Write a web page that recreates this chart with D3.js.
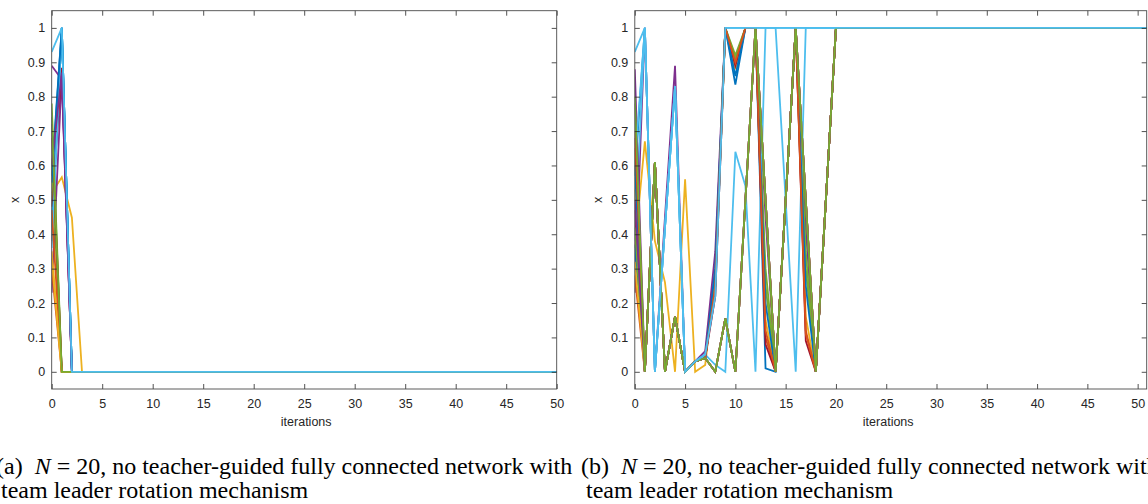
<!DOCTYPE html>
<html>
<head>
<meta charset="utf-8">
<script src="https://cdn.jsdelivr.net/npm/d3@7"></script>
<style>
body { margin: 0; background: #fff; }
.tick text { font-family: "Liberation Sans", Arial, sans-serif; font-size: 12.5px; fill: #262626; }
.lbl { font-family: "Liberation Sans", Arial, sans-serif; font-size: 12.5px; fill: #262626; }
.cap { font-family: "Liberation Serif", "Times New Roman", serif; font-size: 24px; fill: #000; }
</style>
</head>
<body>
<svg id="fig" width="1148" height="504"></svg>
<script>
// matlab default line colours, cycled over the 20 agents
var colors = ["#0072BD", "#D95319", "#EDB120", "#7E2F8E", "#77AC30", "#4DBEEE", "#A2142F"];

var xTicks = [0, 5, 10, 15, 20, 25, 30, 35, 40, 45, 50];
var yTicks = [0, 0.1, 0.2, 0.3, 0.4, 0.5, 0.6, 0.7, 0.8, 0.9, 1];
var yTickLabels = ["0", "0.1", "0.2", "0.3", "0.4", "0.5", "0.6", "0.7", "0.8", "0.9", "1"];

// (a) every agent settles at 0 after a few iterations
var itersA = [0, 1, 2, 3, 50];
var seriesA = [
    [0.57, 1, 0, 0, 0],
    [0.68, 0, 0, 0, 0],
    [0.52, 0.566, 0.448, 0, 0],
    [0.23, 0.86, 0, 0, 0],
    [0.78, 0, 0, 0, 0],
    [0.42, 1, 0, 0, 0],
    [0.48, 0.884, 0, 0, 0],
    [0.38, 1, 0, 0, 0],
    [0.30, 0, 0, 0, 0],
    [0.35, 0, 0, 0, 0],
    [0.89, 0.85, 0, 0, 0],
    [0.62, 0, 0, 0, 0],
    [0.36, 1, 0, 0, 0],
    [0.72, 0, 0, 0, 0],
    [0.55, 1, 0, 0, 0],
    [0.47, 0, 0, 0, 0],
    [0.33, 0, 0, 0, 0],
    [0.60, 0.87, 0, 0, 0],
    [0.74, 0, 0, 0, 0],
    [0.93, 1, 0, 0, 0]
];

// (b) agents oscillate, then all settle at 1 from iteration 20
var itersB = [0, 1, 2, 3, 4, 5, 6, 7, 8, 9, 10, 11, 12, 13, 14, 15, 16, 17, 18, 19, 20, 51];
var seriesB = [
    [0.57, 1, 0, 0.42, 0.83, 0, 0.03, 0.05, 0.30, 1, 0.835, 1, 1, 0.01, 0, 0.5, 1, 0.45, 0, 0.5, 1, 1],
    [0.65, 0, 0.61, 0, 0.16, 0, 0.03, 0.04, 0, 0.155, 0, 0.5, 1, 0.5, 0, 0.5, 1, 0.5, 0, 0.5, 1, 1],
    [0.36, 0.67, 0.38, 0.26, 0, 0.56, 0, 0.02, 0.28, 1, 0.88, 1, 1, 0.15, 0, 0.5, 1, 0.16, 0, 0.5, 1, 1],
    [0.23, 1, 0, 0.45, 0.89, 0, 0.03, 0.06, 0.35, 1, 0.90, 1, 1, 0.45, 0, 0.5, 1, 0.42, 0, 0.5, 1, 1],
    [0.78, 0, 0.61, 0, 0.16, 0, 0.03, 0.04, 0.25, 1, 0.92, 1, 1, 0.25, 0, 0.5, 1, 0.30, 0, 0.5, 1, 1],
    [0.38, 1, 0, 0.42, 0.83, 0, 0.03, 0.05, 0.22, 1, 1, 1, 1, 1, 1, 1, 1, 1, 1, 1, 1, 1],
    [0.47, 0, 0.61, 0, 0.16, 0, 0.03, 0.04, 0, 0.155, 0, 0.5, 1, 0.5, 0, 0.5, 1, 0.5, 0, 0.5, 1, 1],
    [0.37, 0, 0.61, 0, 0.16, 0, 0.03, 0.04, 0, 0.155, 0, 0.5, 1, 0.5, 0, 0.5, 1, 0.5, 0, 0.5, 1, 1],
    [0.28, 0, 0.61, 0, 0.16, 0, 0.03, 0.04, 0.25, 1, 0.90, 1, 1, 0.10, 0, 0.5, 1, 0.12, 0, 0.5, 1, 1],
    [0.53, 0, 0.61, 0, 0.16, 0, 0.03, 0.04, 0, 0.155, 0, 0.5, 1, 0.5, 0, 0.5, 1, 0.5, 0, 0.5, 1, 1],
    [0.88, 0, 0.61, 0, 0.16, 0, 0.03, 0.04, 0, 0.155, 0, 0.5, 1, 0.5, 0, 0.5, 1, 0.5, 0, 0.5, 1, 1],
    [0.42, 0, 0.61, 0, 0.16, 0, 0.03, 0.04, 0.25, 1, 0.91, 1, 1, 0.30, 0, 0.5, 1, 0.35, 0, 0.5, 1, 1],
    [0.60, 1, 0, 0.42, 0.83, 0, 0.03, 0.05, 0.02, 0, 0.64, 0.54, 0, 1, 1, 0.5, 0, 1, 1, 1, 1, 1],
    [0.68, 0, 0.61, 0, 0.16, 0, 0.03, 0.04, 0.22, 1, 0.89, 1, 1, 0.08, 0, 0.5, 1, 0.09, 0, 0.5, 1, 1],
    [0.60, 0, 0.61, 0, 0.16, 0, 0.03, 0.04, 0.30, 1, 0.86, 1, 1, 0.20, 0, 0.5, 1, 0.25, 0, 0.5, 1, 1],
    [0.70, 0, 0.61, 0, 0.16, 0, 0.03, 0.04, 0.25, 1, 0.90, 1, 1, 0.12, 0, 0.5, 1, 0.11, 0, 0.5, 1, 1],
    [0.32, 0, 0.61, 0, 0.16, 0, 0.03, 0.04, 0, 0.155, 0, 0.5, 1, 0.5, 0, 0.5, 1, 0.5, 0, 0.5, 1, 1],
    [0.50, 0, 0.61, 0, 0.16, 0, 0.03, 0.04, 0, 0.155, 0, 0.5, 1, 0.5, 0, 0.5, 1, 0.5, 0, 0.5, 1, 1],
    [0.80, 0, 0.61, 0, 0.16, 0, 0.03, 0.04, 0, 0.155, 0, 0.5, 1, 0.5, 0, 0.5, 1, 0.5, 0, 0.5, 1, 1],
    [0.93, 1, 0, 0.42, 0.83, 0, 0.03, 0.05, 0.22, 1, 1, 1, 1, 1, 1, 1, 1, 1, 1, 1, 1, 1]
];

var captionA = ["(a)", "team leader rotation mechanism"];
var captionB = ["(b)", "team leader rotation mechanism"];

var svg = d3.select("#fig");
var plotTop = 10.7, plotBottom = 389, tickLen = 5;

function panel(id, left, right, xMax, iters, series, caption, capX) {
    var x = d3.scaleLinear().domain([0, xMax]).range([left, right]);
    var y = d3.scaleLinear().domain([-0.05, 1.05]).range([plotBottom, plotTop]);
    var g = svg.append("g");

    g.append("clipPath").attr("id", "clip" + id)
        .append("rect")
        .attr("x", left).attr("y", plotTop)
        .attr("width", right - left).attr("height", plotBottom - plotTop);

    var line = d3.line()
        .x(function (d, i) { return x(iters[i]); })
        .y(function (d) { return y(d); });

    g.append("g")
        .attr("clip-path", "url(#clip" + id + ")")
        .selectAll("path")
        .data(series)
        .enter()
        .append("path")
        .attr("d", line)
        .attr("fill", "none")
        .attr("stroke", function (d, i) { return colors[i % colors.length]; })
        .attr("stroke-width", 1.8)
        .attr("stroke-linejoin", "miter");

    var axes = [
        d3.axisBottom(x).tickValues(xTicks).tickFormat(d3.format("d")),
        d3.axisTop(x).tickValues(xTicks).tickFormat(""),
        d3.axisLeft(y).tickValues(yTicks).tickFormat(function (d, i) { return yTickLabels[i]; }),
        d3.axisRight(y).tickValues(yTicks).tickFormat("")
    ];
    var shifts = ["translate(0," + plotBottom + ")", "translate(0," + plotTop + ")",
                  "translate(" + left + ",0)", "translate(" + right + ",0)"];
    axes.forEach(function (ax, k) {
        ax.tickSizeInner(-tickLen).tickSizeOuter(0).tickPadding(k == 0 ? 10 : 6.5);
        var a = g.append("g").attr("transform", shifts[k]).call(ax);
        a.select(".domain").remove();
        a.selectAll("line").attr("stroke", "#262626").attr("stroke-width", 0.8);
    });

    g.append("rect")
        .attr("x", left).attr("y", plotTop)
        .attr("width", right - left).attr("height", plotBottom - plotTop)
        .attr("fill", "none").attr("stroke", "#4a4a4a").attr("stroke-width", 0.9);

    g.append("text").attr("class", "lbl")
        .attr("x", (x(0) + x(50)) / 2 + 2).attr("y", 426)
        .attr("text-anchor", "middle").text("iterations");

    g.append("text").attr("class", "lbl")
        .attr("transform", "translate(" + (left - 33) + "," + ((plotTop + plotBottom) / 2) + ") rotate(-90)")
        .attr("text-anchor", "middle").text("x");

    var t = g.append("text").attr("class", "cap").attr("x", capX).attr("y", 474);
    t.append("tspan").text(caption[0] + "\u00a0\u00a0");
    t.append("tspan").attr("font-style", "italic").text("N");
    t.append("tspan").text(" = 20, no teacher-guided fully connected network with");
    g.append("text").attr("class", "cap").attr("x", capX + 5).attr("y", 498).text(caption[1]);
}

panel("A", 51.7, 556.7, 50, itersA, seriesA, captionA, -4);
panel("B", 634.8, 1146.7, 50.9, itersB, seriesB, captionB, 581);
</script>
</body>
</html>
